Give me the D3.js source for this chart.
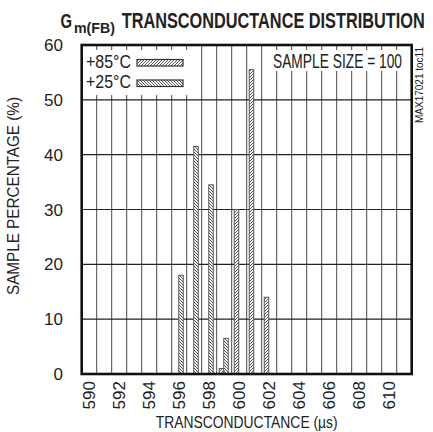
<!DOCTYPE html>
<html>
<head>
<meta charset="utf-8">
<script src="https://cdn.jsdelivr.net/npm/d3@7"></script>
<style>
  html, body { margin: 0; padding: 0; background: #fff; }
  svg { display: block; }
  text { font-family: "Liberation Sans Narrow", "Liberation Sans", Arial, sans-serif; fill: #222; }
</style>
</head>
<body>
<svg id="chart" width="433" height="432"></svg>
<script>
// ---- data ----
const bins = [590,591,592,593,594,595,596,597,598,599,600,601,602,603,604,605,606,607,608,609,610];
const tickLabels = [590,592,594,596,598,600,602,604,606,608,610];
const yTicks = [0,10,20,30,40,50,60];
const seriesNames = ["+85°C", "+25°C"];
const values85 = [0,0,0,0,0,0,0,0,0,1,30,55.5,14,0,0,0,0,0,0,0,0];
const values25 = [0,0,0,0,0,0,18,41.5,34.5,6.5,0,0,0,0,0,0,0,0,0,0,0];

const svg = d3.select("#chart");
const L = 81.7, R = 411.7, T = 45, B = 374;
const x = d3.scaleLinear().domain([589.5, 611.5]).range([L, R]);
const y = d3.scaleLinear().domain([0, 60]).range([B, T]);
const bw = x(1) - x(0);

// patterns
const defs = svg.append("defs");
function hatch(id, dir) {
  const p = defs.append("pattern").attr("id", id).attr("patternUnits", "userSpaceOnUse")
    .attr("width", 3).attr("height", 3);
  p.append("rect").attr("width", 3).attr("height", 3).attr("fill", "#fff");
  if (dir > 0) p.append("path").attr("d", "M-1,1 L1,-1 M0,3 L3,0 M2,4 L4,2");
  else p.append("path").attr("d", "M-1,2 L1,4 M0,0 L3,3 M2,-1 L4,1");
  p.selectAll("path").attr("stroke", "#444").attr("stroke-width", 0.9);
}
hatch("h85", 1);
hatch("h25", -1);

// gridlines
const g = svg.append("g");
g.selectAll("line.v").data(d3.range(590.5, 611, 1)).join("line")
  .attr("x1", d => x(d)).attr("x2", d => x(d)).attr("y1", T).attr("y2", B)
  .attr("stroke", "#333").attr("stroke-width", 0.9);
g.selectAll("line.h").data(yTicks.filter(d => d > 0 && d < 60)).join("line")
  .attr("x1", L).attr("x2", R).attr("y1", d => y(d)).attr("y2", d => y(d))
  .attr("stroke", "#222").attr("stroke-width", 1.1);

// legend and label backgrounds
svg.append("rect").attr("x", 83).attr("y", 50).attr("width", 116).attr("height", 45).attr("fill", "#fff");
svg.append("rect").attr("x", 266).attr("y", 50).attr("width", 141).attr("height", 21).attr("fill", "#fff");

// bars
const bars = svg.append("g");
const d85 = bins.map((b, i) => ({b, v: values85[i]})).filter(d => d.v > 0);
const d25 = bins.map((b, i) => ({b, v: values25[i]})).filter(d => d.v > 0);
bars.selectAll("rect.a").data(d85).join("rect")
  .attr("x", d => x(d.b) - bw * 0.33).attr("width", bw * 0.3)
  .attr("y", d => y(d.v)).attr("height", d => y(0) - y(d.v))
  .attr("fill", "url(#h85)").attr("stroke", "#555").attr("stroke-width", 1);
bars.selectAll("rect.b").data(d25).join("rect")
  .attr("x", d => x(d.b) - bw * 0.03).attr("width", bw * 0.3)
  .attr("y", d => y(d.v)).attr("height", d => y(0) - y(d.v))
  .attr("fill", "url(#h25)").attr("stroke", "#555").attr("stroke-width", 1);

// frame
svg.append("rect").attr("x", L).attr("y", T).attr("width", R - L).attr("height", B - T)
  .attr("fill", "none").attr("stroke", "#111").attr("stroke-width", 2.6);

// y ticks labels
svg.append("g").selectAll("text").data(yTicks).join("text")
  .attr("x", 63).attr("y", d => y(d)).attr("dy", "0.36em").attr("text-anchor", "end")
  .attr("font-size", 17).text(d => d);

// x tick labels
svg.append("g").selectAll("text").data(tickLabels).join("text")
  .attr("transform", d => `translate(${x(d)},381) rotate(-90)`)
  .attr("text-anchor", "end").attr("dy", "0.36em").attr("font-size", 17).text(d => d);

// titles
svg.append("text").attr("x", 246.7).attr("y", 428).attr("text-anchor", "middle")
  .attr("font-size", 16.5).attr("textLength", 182).attr("lengthAdjust", "spacingAndGlyphs")
  .text("TRANSCONDUCTANCE (µs)");
svg.append("text").attr("transform", "translate(18.5,196) rotate(-90)").attr("text-anchor", "middle")
  .attr("font-size", 16).attr("textLength", 198).attr("lengthAdjust", "spacingAndGlyphs")
  .text("SAMPLE PERCENTAGE (%)");

const title = svg.append("g").attr("font-weight", "bold");
title.append("text").attr("x", 60.5).attr("y", 28.3).attr("font-size", 21).attr("font-weight", "bold")
  .attr("textLength", 11.5).attr("lengthAdjust", "spacingAndGlyphs").text("G");
title.append("text").attr("x", 74).attr("y", 33).attr("font-size", 15.5).attr("font-weight", "bold")
  .attr("textLength", 41).attr("lengthAdjust", "spacingAndGlyphs").text("m(FB)");
title.append("text").attr("x", 121.7).attr("y", 28.3).attr("font-size", 21.5).attr("font-weight", "bold")
  .attr("textLength", 303).attr("lengthAdjust", "spacingAndGlyphs").text("TRANSCONDUCTANCE DISTRIBUTION");

// legend
const leg = svg.append("g");
seriesNames.forEach((name, i) => {
  leg.append("text").attr("x", 86).attr("y", 68.3 + i * 20).attr("font-size", 18)
    .attr("textLength", 45).attr("lengthAdjust", "spacingAndGlyphs").text(name);
  leg.append("rect").attr("x", 137).attr("y", 59.5 + i * 20.5).attr("width", 46).attr("height", 6.5)
    .attr("fill", i === 0 ? "url(#h85)" : "url(#h25)").attr("stroke", "#333").attr("stroke-width", 1.2);
});

svg.append("text").attr("x", 273).attr("y", 68.3).attr("font-size", 19.5)
  .attr("textLength", 129).attr("lengthAdjust", "spacingAndGlyphs").text("SAMPLE SIZE = 100");

svg.append("text").attr("transform", "translate(423,123) rotate(-90)").attr("font-size", 10)
  .attr("textLength", 76).attr("lengthAdjust", "spacingAndGlyphs").attr("fill", "#444").text("MAX17021 toc11");
</script>
</body>
</html>
